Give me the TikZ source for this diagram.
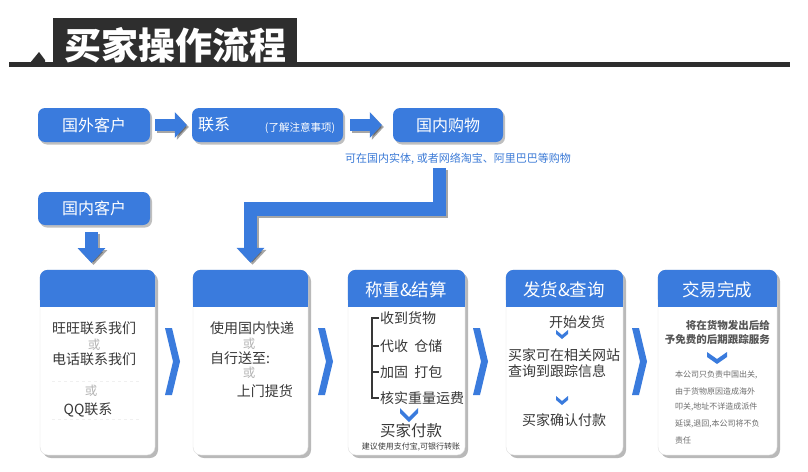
\documentclass[tikz,border=0pt]{standalone}
\usepackage{fontspec}
\setmainfont{Noto Sans CJK SC}
\usetikzlibrary{arrows.meta,shadows,calc}
\definecolor{myblue}{HTML}{3A7BDD}
\definecolor{dark}{HTML}{2E2E2E}
\definecolor{txt}{HTML}{383838}
\definecolor{orc}{HTML}{B5B5B5}
\definecolor{subblue}{HTML}{3B7AD6}
\begin{document}
\begin{tikzpicture}[x=1pt,y=-1pt,
  topbox/.style={fill=myblue, rounded corners=7pt, minimum height=34pt, text=white, inner sep=0pt,
     font=\fontsize{16}{18}\selectfont,
     drop shadow={shadow xshift=2pt,shadow yshift=-2.5pt,opacity=.5}},
  card/.style={draw=gray!25, fill=white, rounded corners=8pt, minimum height=185pt, inner sep=0pt,
     drop shadow={shadow xshift=3pt,shadow yshift=-3pt,opacity=.55}},
  head/.style={text=white, font=\fontsize{17.5}{20}\selectfont},
  body/.style={text=txt, inner sep=0pt, font=\fontsize{14}{16}\selectfont},
  orw/.style={text=orc, inner sep=0pt, font=\fontsize{12.5}{14}\selectfont},
  small/.style={text=txt!85, inner sep=0pt, font=\fontsize{10.5}{12}\selectfont},
  tiny/.style={text=gray!85!black, inner sep=0pt, font=\fontsize{8}{9}\selectfont},
  flowarrow/.style={myblue, line width=12pt, -{Triangle[width=25pt,length=12pt]}},
  bigarrow/.style={myblue, line width=13.5pt, line join=miter, -{Triangle[width=27pt,length=15pt]}},
  shadowed/.style={black, opacity=.35, transform canvas={xshift=2pt,yshift=-2pt}},
]
\useasboundingbox (0,0) rectangle (808,471);

% ---- title ----
\fill[dark] (9,62) rectangle (790,67);
\fill[dark] (53,18) rectangle (297,63);
\fill[dark] (30,63) -- (39,52) -- (45,60) -- (45,63) -- cycle;
\node[text=white, inner sep=0pt, font=\fontsize{37}{40}\selectfont\bfseries] (title) at (175,45) {买家操作流程};

% ---- top row ----
\node[topbox, minimum width=112pt] (fk) at (94,125) {国外客户};
\node[topbox, minimum width=151pt] (lx) at (267.5,125) {};
\node[text=white, inner sep=0pt, font=\fontsize{16}{18}\selectfont, anchor=west] (lxt) at (198,125) {联系};
\node[text=white, inner sep=0pt, font=\fontsize{10.5}{12}\selectfont] (lxn) at (300,128) {(了解注意事项)};
\node[topbox, minimum width=110pt] (gn) at (448,125) {国内购物};
\node[text=subblue, inner sep=0pt, font=\fontsize{11}{13}\selectfont] (sub) at (458,159) {可在国内实体, 或者网络淘宝、阿里巴巴等购物};
\node[topbox, minimum width=112pt, minimum height=33pt] (gk) at (94,208.5) {国内客户};

% ---- cards ----
\node[card, minimum width=115pt] (c1) at (97.5,362.5) {};
\node[card, minimum width=115pt] (c2) at (250.5,362.5) {};
\node[card, minimum width=117pt] (c3) at (406.5,362.5) {};
\node[card, minimum width=117pt] (c4) at (564.5,362.5) {};
\node[card, minimum width=119pt] (c5) at (717.5,362.5) {};
\foreach \c in {c1,c2,c3,c4,c5}{
  \fill[myblue, rounded corners=8pt] (\c.north west) rectangle ([yshift=-37pt]\c.north east);
  \fill[myblue] ([yshift=-18pt]\c.north west) rectangle ([yshift=-37pt]\c.north east);
}

% ---- arrows (connectors) ----
\coordinate (e0) at (439.5,168);
\coordinate (k0) at (91.5,232);
\coordinate (k1) at (91.5,263);
\draw[flowarrow, shadowed] ([xshift=5pt]fk.east) -- ([xshift=-5pt]lx.west);
\draw[flowarrow] ([xshift=5pt]fk.east) -- ([xshift=-5pt]lx.west);
\draw[flowarrow, shadowed] ([xshift=7pt]lx.east) -- ([xshift=-11pt]gn.west);
\draw[flowarrow] ([xshift=7pt]lx.east) -- ([xshift=-11pt]gn.west);
\draw[bigarrow, shadowed] (e0) |- ([yshift=61pt]c2.north) -- ([yshift=7pt]c2.north);
\draw[bigarrow] (e0) |- ([yshift=61pt]c2.north) -- ([yshift=7pt]c2.north);
\draw[bigarrow, shadowed] (k0) -- (k1);
\draw[bigarrow] (k0) -- (k1);

% ---- chevrons between cards ----
\foreach \x in {165,318,473,632}{
  \fill[myblue] (\x,328) -- (\x+7,328) -- (\x+15,361.5) -- (\x+7,395) -- (\x,395) -- (\x+8,361.5) -- cycle;
}

% ---- card 1 ----
\node[body] (a1) at (94,328) {旺旺联系我们};
\node[orw] (a2) at (94,345) {或};
\node[body] (a3) at (94,359) {电话联系我们};
\node[orw] (a4) at (91,391) {或};
\node[body] (a5) at (88,410) {QQ联系};
\draw[gray!12, dashed] (52,381) -- (140,381);
\draw[gray!12, dashed] (52,419) -- (140,419);

% ---- card 2 ----
\node[body, anchor=west] (b1) at (210,328) {使用国内快递};
\node[orw] (b2) at (249,344) {或};
\node[body, anchor=west] (b3) at (210,358) {自行送至:};
\node[orw] (b4) at (249,373) {或};
\node[body, anchor=east] (b5) at (293,391) {上门提货};

% ---- card 3 ----
\node[head] (h3) at (406,290) {称重\&结算};
\draw[txt, line width=1.2pt] (379,318) -- (372,318) -- (372,398) -- (379,398);
\draw[txt, line width=1.2pt] (372,346) -- (379,346) (372,372) -- (379,372);
\node[body, anchor=west] (d1) at (380,318) {收到货物};
\node[body, anchor=west] (d2) at (380,346) {代收\ \ 仓储};
\node[body, anchor=west] (d3) at (380,372) {加固\ \ 打包};
\node[body, anchor=west] (d4) at (380,398) {核实重量运费};
\fill[myblue] (400,408) -- (409,417) -- (418,408) -- (418,413) -- (409,422) -- (400,413) -- cycle;
\node[body, font=\fontsize{15.5}{17}\selectfont] (d5) at (411,431) {买家付款};
\node[tiny, text=txt] (d6) at (411,447) {建议使用支付宝,可银行转账};

% ---- card 4 ----
\node[head] (h4) at (564,290) {发货\&查询};
\node[body] (f1) at (577,322) {开始发货};
\fill[myblue] (556,330) -- (562,335) -- (568,330) -- (568,334) -- (562,339) -- (556,334) -- cycle;
\node[body, anchor=west] (f2) at (508,355) {买家可在相关网站};
\node[body, anchor=west] (f3) at (508,371) {查询到跟踪信息};
\fill[myblue] (556,396) -- (562,401) -- (568,396) -- (568,400) -- (562,405) -- (556,400) -- cycle;
\node[body] (f4) at (564,420) {买家确认付款};

% ---- card 5 ----
\node[head] (h5) at (717,290) {交易完成};
\node[small, anchor=east, font=\fontsize{10.5}{12}\selectfont\bfseries] (g1) at (770,325) {将在货物发出后给};
\node[small, anchor=east, font=\fontsize{10.5}{12}\selectfont\bfseries] (g2) at (770,339) {予免费的后期跟踪服务};
\fill[myblue] (707,352) -- (717,359) -- (727,352) -- (727,357) -- (717,364) -- (707,357) -- cycle;
\node[tiny, anchor=west] (g3) at (675,375) {本公司只负责中国出关,};
\node[tiny, anchor=west] (g4) at (675,391) {由于货物原因造成海外};
\node[tiny, anchor=west] (g5) at (675,407) {叩关,地址不详造成派件};
\node[tiny, anchor=west] (g6) at (675,424) {延误,退回,本公司将不负};
\node[tiny, anchor=west] (g7) at (675,440) {责任};
\end{tikzpicture}
\end{document}
